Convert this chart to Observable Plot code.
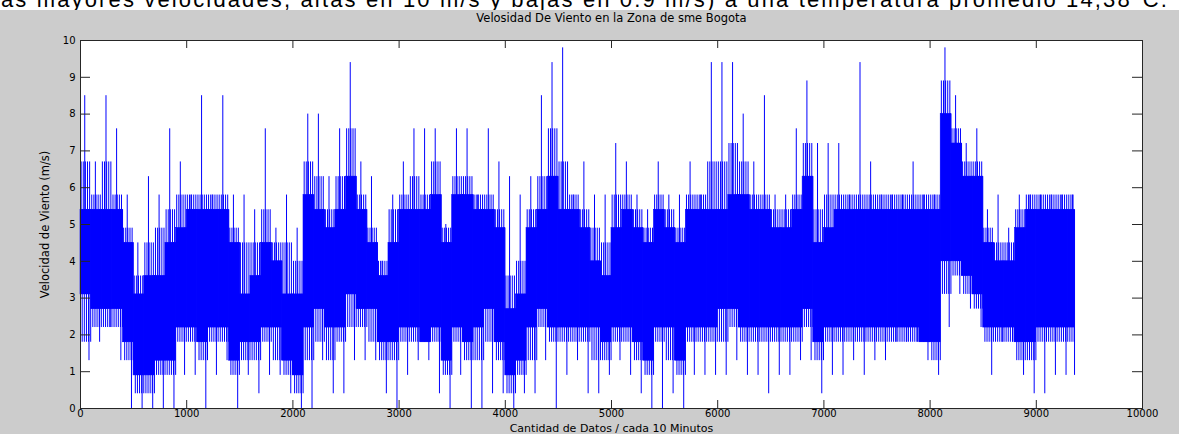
<!DOCTYPE html>
<html><head><meta charset="utf-8">
<script src="https://cdn.jsdelivr.net/npm/d3@7"></script>
<script src="https://cdn.jsdelivr.net/npm/@observablehq/plot@0.6"></script>
<style>
html,body{margin:0;padding:0;background:#cccccc;width:1179px;height:434px;overflow:hidden}
#strip{height:10px;background:#fff;overflow:hidden;position:relative}
#cap{position:absolute;left:1px;top:-11px;font:22px "Liberation Sans",Arial,sans-serif;line-height:22px;white-space:nowrap;color:#000}
#chart svg{display:block}
</style></head><body>
<div id="strip"><span id="cap">as mayores velocidades, altas en 10 m/s y bajas en 0.9 m/s) a una temperatura promedio 14,38°C.</span></div>
<div id="chart"></div>
<script>
const title = "Velosidad De Viento en la Zona de sme Bogota";
const xLabel = "Cantidad de Datos / cada 10 Minutos";
const yLabel = "Velocidad de Viento (m/s)";
const xTicks = [0,1000,2000,3000,4000,5000,6000,7000,8000,9000,10000];
const yTicks = [0,1,2,3,4,5,6,7,8,9,10];
const lastIndex = 9360;
const binSize = 100;
// per 100-sample bin (m/s)
// highest / lowest spike in the bin
const peakHi = [8.5,6.7,8.5,7.6,5.8,4.5,6.3,5.8,7.6,6.7, 5.8,8.5,5.8,8.5,5.8,5.8,5.4,7.6,4.9,5.8, 4.9,8.0,8.0,6.3,7.6,9.4,6.7,6.3,4.0,5.8, 6.7,7.6,7.6,7.6,5.0,7.6,7.6,5.8,7.6,6.7, 6.3,5.8,6.3,8.5,9.4,9.8,5.8,6.7,5.8,5.8, 7.2,6.7,5.8,5.4,6.7,5.8,5.8,6.7,5.8,9.4, 9.4,9.4,8.0,6.7,8.5,5.8,5.8,7.6,8.9,7.2, 7.2,7.2,5.8,9.4,6.7,5.8,5.8,5.8,6.7,5.8, 5.8,9.8,8.5,7.2,7.6,5.4,5.8,4.9,5.8,5.8, 5.8,5.8,5.8,5.8];
const peakLo = [1.3,1.8,2.2,1.3,0,0,0,0,0,0.9, 0.9,0,0.9,1.3,0,0.9,0.4,0.9,0.9,0.4, 0,0,1.3,0.4,0.4,1.3,1.3,1.3,0.4,0, 0.9,1.3,1.3,0.4,0,0.9,0,0,0.4,0.4, 0,0.4,0.4,1.3,0,0.9,1.3,0.4,0.4,0.9, 1.3,0.9,0.4,0,0,0.4,0,0.9,0.9,0.9, 0.9,1.3,0.9,0.9,0.4,0.9,0.9,1.3,1.3,0.4, 0.9,0.9,1.3,0.9,1.3,1.3,1.8,1.8,1.8,1.3, 0.9,2.2,3.1,2.7,2.2,0.9,1.8,1.8,0.9,0.4, 0.4,0.9,0.9,0.9];
// level reached by most of the dense up / down swings
const combHi = [6.7,5.8,6.7,5.8,4.9,3.6,4.5,4.9,5.4,5.8, 5.8,5.8,5.8,5.8,4.9,4.5,4.5,5.4,4.5,4.5, 4.0,6.7,6.3,5.4,6.3,7.6,5.8,4.9,4.0,5.4, 5.8,6.3,5.8,6.7,4.9,6.3,6.3,5.8,5.8,5.4, 3.6,4.0,5.4,6.3,7.6,6.7,5.8,5.4,4.9,4.5, 5.8,5.8,5.4,4.9,5.8,5.4,4.9,5.8,5.8,6.7, 6.7,7.2,6.7,5.8,5.8,5.4,5.4,5.8,7.2,5.4, 5.8,5.8,5.8,5.8,5.8,5.8,5.8,5.8,5.8,5.8, 5.8,8.9,7.6,6.7,6.7,4.9,4.5,4.5,5.4,5.8, 5.8,5.8,5.8,5.8];
const combLo = [1.8,2.2,2.2,2.2,1.3,0.4,0.4,0.9,0.9,1.8, 1.8,1.3,1.8,1.8,0.9,1.3,1.3,1.8,1.3,0.9, 0.4,1.3,1.8,1.3,1.8,2.2,2.2,1.8,1.3,1.3, 1.8,1.8,1.8,1.8,0.9,1.8,1.3,1.3,1.8,1.3, 0.4,0.9,1.3,2.2,1.8,1.8,1.8,1.8,1.3,1.3, 1.8,1.8,1.3,0.9,1.8,1.3,0.9,1.8,1.8,1.8, 1.8,2.2,1.8,1.8,1.8,1.8,1.8,1.8,2.2,1.3, 1.8,1.8,1.8,1.8,1.8,1.8,1.8,1.8,1.8,1.8, 1.3,3.1,3.6,3.1,2.7,1.8,1.8,1.8,1.3,1.3, 1.8,1.8,1.8,1.8];
// solid core of the trace
const bandHi = [5.4,5.4,5.4,5.4,4.5,3.1,3.6,3.6,4.5,4.9, 5.4,5.4,5.4,5.4,4.5,3.1,3.6,4.5,4.0,3.1, 3.1,5.8,5.4,4.9,5.4,6.3,5.4,4.5,3.6,4.5, 5.4,5.4,5.4,5.8,4.5,5.8,5.8,5.4,5.4,4.9, 2.7,3.1,4.9,5.4,6.3,5.4,5.4,4.9,4.0,3.6, 4.9,5.4,4.9,4.5,5.4,4.9,4.5,5.4,5.4,5.4, 5.4,5.8,5.8,5.4,5.4,4.9,4.9,5.4,6.3,4.5, 4.9,5.4,5.4,5.4,5.4,5.4,5.4,5.4,5.4,5.4, 5.4,8.0,7.2,6.3,6.3,4.5,4.0,4.0,4.9,5.4, 5.4,5.4,5.4,5.4];
const bandLo = [3.1,2.7,2.7,2.7,1.8,0.9,0.9,1.3,1.3,2.2, 2.2,1.8,2.2,2.2,1.3,1.8,1.8,2.2,2.2,1.3, 0.9,2.2,2.7,2.2,2.2,3.1,2.7,2.7,1.8,1.8, 2.2,2.2,1.8,2.2,1.3,2.2,1.8,2.2,2.7,1.8, 0.9,1.3,2.2,2.7,2.2,2.2,2.2,2.2,2.2,1.8, 2.2,2.2,1.8,1.3,2.2,2.2,1.3,2.2,2.2,2.2, 2.7,2.7,2.2,2.2,2.2,2.2,2.2,2.2,2.7,1.8, 2.2,2.2,2.2,2.2,2.2,2.2,2.2,2.2,2.2,1.8, 1.8,4.0,4.0,3.6,3.1,2.2,2.2,2.2,1.8,1.8, 2.2,2.2,2.2,2.2];

const bins = peakHi.map((hi, i) => ({
  s: i * binSize, e: Math.min((i + 1) * binSize, lastIndex),
  hi, lo: peakLo[i], ch: combHi[i], cl: combLo[i], bh: bandHi[i], bl: bandLo[i]
}));
// dense swings drawn as a comb inside each bin (offsets are drawing positions only)
const upOffsets = [6, 26, 46, 66, 86];
const downOffsets = [16, 36, 56, 76, 96];
const combUp = bins.flatMap(b => upOffsets.filter(o => b.s + o <= b.e).map(o => ({x: b.s + o, y1: b.bl, y2: b.ch})));
const combDown = bins.flatMap(b => downOffsets.filter(o => b.s + o <= b.e).map(o => ({x: b.s + o, y1: b.cl, y2: b.bh})));

const W = 1179, H = 424, mL = 80, mR = 37, mT = 30, mB = 26;
const iw = W - mL - mR, ih = H - mT - mB;
const blue = "#0000ff", axc = "#262626";

const plot = Plot.plot({
  width: W, height: H, marginLeft: mL, marginRight: mR, marginTop: mT, marginBottom: mB,
  style: {background: "transparent", fontFamily: "'DejaVu Sans', sans-serif", fontSize: "10px", color: "#000", overflow: "visible"},
  x: {domain: [0, 10000]},
  y: {domain: [0, 10]},
  marks: [
    Plot.frame({fill: "white", stroke: "none"}),
    Plot.rectY(bins, {x1: "s", x2: "e", y1: "bl", y2: "bh", fill: blue, stroke: blue, strokeWidth: 0.6}),
    Plot.ruleX(combUp, {x: "x", y1: "y1", y2: "y2", stroke: blue, strokeWidth: 1}),
    Plot.ruleX(combDown, {x: "x", y1: "y1", y2: "y2", stroke: blue, strokeWidth: 1}),
    Plot.ruleX(bins, {x: d => d.s + 40, y1: "bl", y2: "hi", stroke: blue, strokeWidth: 1}),
    Plot.ruleX(bins, {x: d => Math.min(d.s + 80, d.e), y1: "lo", y2: "bh", stroke: blue, strokeWidth: 1}),
    Plot.tickY(yTicks, {y: d => d, insetRight: iw - 10, stroke: axc}),
    Plot.tickY(yTicks, {y: d => d, insetLeft: iw - 10, stroke: axc}),
    Plot.tickX(xTicks, {x: d => d, insetTop: ih - 8, stroke: axc}),
    Plot.tickX(xTicks, {x: d => d, insetBottom: ih - 8, stroke: axc}),
    Plot.frame({stroke: axc}),
    Plot.axisY({ticks: yTicks, tickSize: 0, tickPadding: 5, label: null, tickFormat: d => String(d)}),
    Plot.axisX({ticks: xTicks, tickSize: 0, tickPadding: 1, label: null, tickFormat: d => String(d)}),
    Plot.text([title], {frameAnchor: "top", lineAnchor: "middle", dy: -22, text: d => d, fontSize: 11.5}),
    Plot.text([xLabel], {frameAnchor: "bottom", lineAnchor: "middle", dy: 20, text: d => d, fontSize: 11}),
    Plot.text([yLabel], {frameAnchor: "left", textAnchor: "middle", lineAnchor: "middle", dx: -35, rotate: -90, text: d => d, fontSize: 11.5})
  ]
});
document.getElementById("chart").appendChild(plot);

const cap = document.getElementById("cap");
const cw = cap.getBoundingClientRect().width;
cap.style.letterSpacing = ((1168 - cw) / cap.textContent.length) + "px";
</script>
</body></html>
